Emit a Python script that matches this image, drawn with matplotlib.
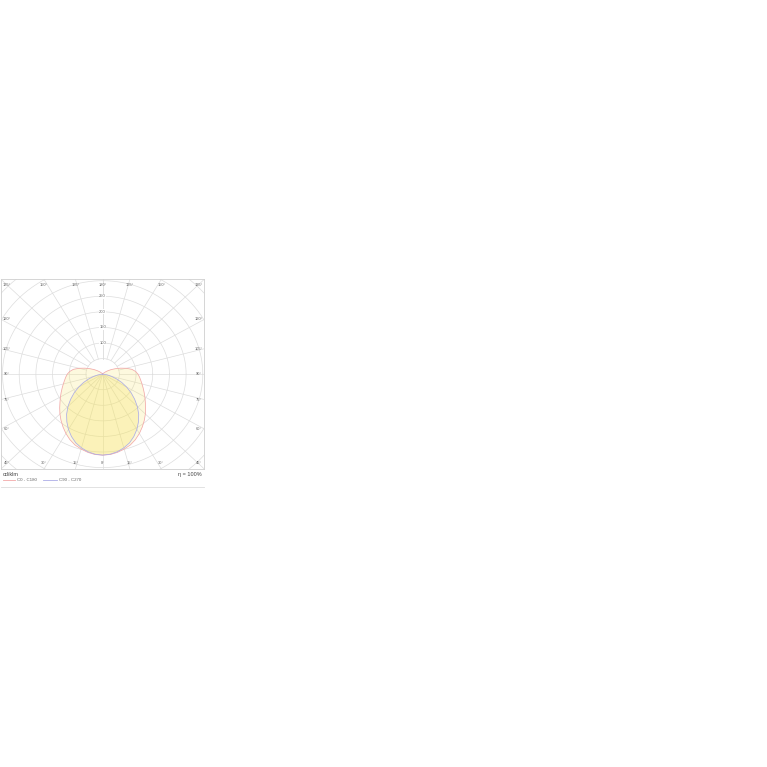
import matplotlib
matplotlib.use("Agg")
import matplotlib.pyplot as plt
import numpy as np
from matplotlib.lines import Line2D

plt.rcParams['font.family'] = ['Liberation Sans', 'DejaVu Sans']

# luminous intensity, cd/klm, gamma 0..180 step 5
gamma = np.arange(0, 185, 5)
c0_c180 = [260, 259, 255, 249, 242, 232, 220, 207, 194, 181, 168, 156, 146,
           137, 129, 122, 116, 111, 106, 99, 89, 73, 56, 41, 29, 19, 12,
           7, 4, 2, 0, 0, 0, 0, 0, 0, 0]
c90_c270 = [260, 258, 253, 245, 235, 221, 205, 187, 168, 147, 125, 104, 83,
            63, 44, 28, 15, 5, 0, 0, 0, 0, 0, 0, 0, 0, 0,
            0, 0, 0, 0, 0, 0, 0, 0, 0, 0]
rings = [50, 100, 150, 200, 250, 300, 350, 400, 450]
ring_labels = [100, 150, 200, 250]
angle_ticks = np.arange(0, 195, 15)
eta = "η = 100%"

W = 767
R = 304.5  # half range of the box, cd/klm

fig = plt.figure(figsize=(7.67, 7.67), dpi=100)
ax = fig.add_axes([1 / W, 1 - 469 / W, 203.3 / W, 189.7 / W])
ax.set_xlim(-R, R)
ax.set_ylim(-R, R)
ax.set_xticks([])
ax.set_yticks([])
for s in ax.spines.values():
    s.set_color('#cfcfcf')
    s.set_linewidth(0.6)

grid_c = '#dddddd'
t = np.linspace(0, 2 * np.pi, 400)
for r in rings:
    ax.plot(r * np.cos(t), r * np.sin(t), color=grid_c, lw=0.5, zorder=1)

for a in np.arange(-180, 181, 15):
    g = np.radians(a)
    r0 = 0 if abs(a) < 90 else 50
    ax.plot([r0 * np.sin(g), 600 * np.sin(g)],
            [-r0 * np.cos(g), -600 * np.cos(g)],
            color=grid_c, lw=0.5, zorder=1)


def outline(vals):
    g = np.radians(np.concatenate([-gamma[::-1], gamma[1:]]))
    v = np.concatenate([vals[::-1], vals[1:]])
    return v * np.sin(g), -v * np.cos(g)


x1, y1 = outline(np.array(c0_c180, float))
x2, y2 = outline(np.array(c90_c270, float))
ax.fill(x1, y1, color='#f7e35a', alpha=0.2, lw=0, zorder=2)
ax.fill(x2, y2, color='#f7e35a', alpha=0.28, lw=0, zorder=2)
ax.plot(x1, y1, color='#f2a8a8', lw=0.55, zorder=3)
ax.plot(x2, y2, color='#acacE6', lw=0.55, zorder=3)

for v in ring_labels:
    ax.text(0, v, str(v), fontsize=3, color='#666666', ha='center',
            va='center', zorder=4,
            bbox=dict(facecolor='white', edgecolor='none', pad=0.3))

# angle labels along the frame
ins_x, ins_y = 16.5, 18.5
for a in angle_ticks:
    for side in (-1, 1):
        if a in (0, 180) and side == 1:
            continue
        g = np.radians(a)
        dx, dy = side * np.sin(g), -np.cos(g)
        k = R / max(abs(dx), abs(dy))
        px, py = dx * k, dy * k
        if abs(abs(py) - R) < 1e-6:
            py -= np.sign(py) * ins_y
        if abs(abs(px) - R) < 1e-6:
            px -= np.sign(px) * ins_x
        ax.text(px, py, "%d°" % a, fontsize=2.9, color='#666666',
                ha='center', va='center', zorder=4)

# footer
fig.text(3 / W, 1 - 474.5 / W, "cd/klm", fontsize=4, color='#444444',
         ha='left', va='center')
fig.text(202 / W, 1 - 474.5 / W, eta, fontsize=4, color='#444444',
         ha='right', va='center')
fig.add_artist(Line2D([3.3 / W, 15 / W], [1 - 480 / W] * 2,
                      color='#f2a8a8', lw=0.6))
fig.text(17.3 / W, 1 - 480 / W, "C0 - C180", fontsize=3.2, color='#666666',
         ha='left', va='center')
fig.add_artist(Line2D([43.3 / W, 56.7 / W], [1 - 480 / W] * 2,
                      color='#acace6', lw=0.6))
fig.text(59.3 / W, 1 - 480 / W, "C90 - C270", fontsize=3.2, color='#666666',
         ha='left', va='center')
fig.add_artist(Line2D([1 / W, 204.3 / W], [1 - 486.7 / W] * 2,
                      color='#dddddd', lw=0.6))

fig.savefig("out.png", dpi=100, facecolor='white')
